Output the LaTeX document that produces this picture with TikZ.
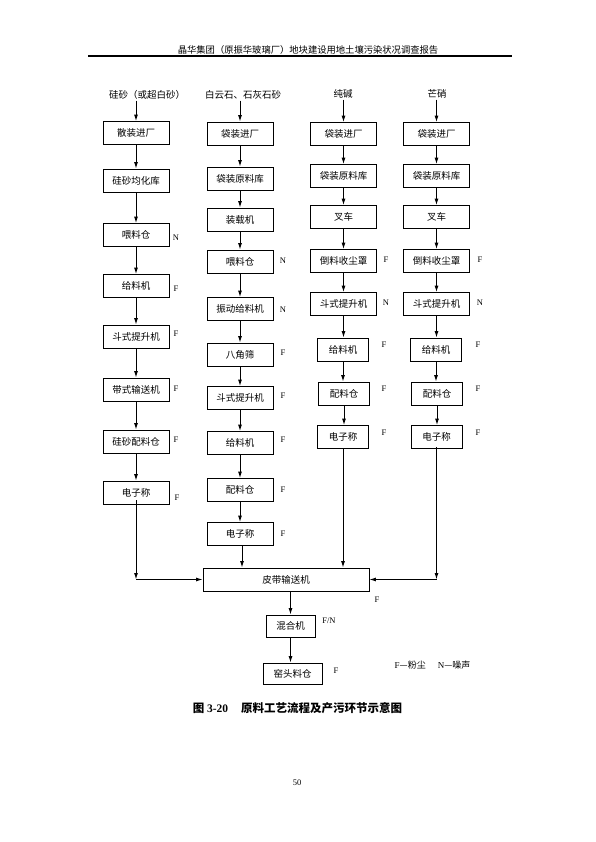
\documentclass[tikz,border=0pt]{standalone}
\usepackage{fontspec}
\setmainfont{Liberation Serif}
\newfontfamily\cjk{Noto Sans CJK SC}
\usetikzlibrary{arrows.meta}
\tikzset{
  box/.style={draw, line width=0.8pt, minimum height=23pt, inner sep=0pt, font=\cjk\fontsize{9.5}{9.5}\selectfont},
  wbox/.style={box, minimum width=66pt},
  nbox/.style={box, minimum width=51pt},
  lab/.style={inner sep=0pt, font=\fontsize{8.5}{8.5}\selectfont},
  ttl/.style={inner sep=1pt, font=\cjk\fontsize{9.5}{9.5}\selectfont},
  arr/.style={-{Latex[length=6.5pt,width=4pt]}, line width=1pt},
  ln/.style={line width=1pt}
}
\begin{document}
\begin{tikzpicture}[x=1pt,y=-1pt]
\useasboundingbox (0,0) rectangle (595,842);
% header
\node[inner sep=0pt, font=\cjk\fontsize{9.3}{9.3}\selectfont] (hdr) at (308,50) {晶华集团（原振华玻璃厂）地块建设用地土壤污染状况调查报告};
\coordinate (hl) at (88,56);
\coordinate (hr) at (512,56);
\draw[line width=1.6pt] (hl) -- (hr);

% titles
\node[ttl] (t1) at (147,95) {硅砂（或超白砂）};
\node[ttl] (t2) at (243,95) {白云石、石灰石砂};
\node[ttl] (t3) at (343,94) {纯碱};
\node[ttl] (t4) at (437,94) {芒硝};

% column 1
\node[wbox] (c1a) at (136,133) {散装进厂};
\node[wbox] (c1b) at (136,180.5) {硅砂均化库};
\node[wbox] (c1c) at (136,235) {喂料仓};
\node[wbox] (c1d) at (136,286) {给料机};
\node[wbox] (c1e) at (136,336.5) {斗式提升机};
\node[wbox] (c1f) at (136,389.5) {带式输送机};
\node[wbox] (c1g) at (136,441.5) {硅砂配料仓};
\node[wbox] (c1h) at (136,492.5) {电子称};
\node[lab] (l1c) at (176,238) {N};
\node[lab] (l1d) at (176,289) {F};
\node[lab] (l1e) at (176,334) {F};
\node[lab] (l1f) at (176,389) {F};
\node[lab] (l1g) at (176,440) {F};
\node[lab] (l1h) at (177,498) {F};

% column 2
\node[wbox] (c2a) at (240,133.5) {袋装进厂};
\node[wbox] (c2b) at (240,178.5) {袋装原料库};
\node[wbox] (c2c) at (240,219.5) {装载机};
\node[wbox] (c2d) at (240,261.5) {喂料仓};
\node[wbox] (c2e) at (240,309) {振动给料机};
\node[wbox] (c2f) at (240,354.5) {八角筛};
\node[wbox] (c2g) at (240,398) {斗式提升机};
\node[wbox] (c2h) at (240,443) {给料机};
\node[wbox] (c2i) at (240,490) {配料仓};
\node[wbox] (c2j) at (240,534) {电子称};
\node[lab] (l2d) at (283,261) {N};
\node[lab] (l2e) at (283,310) {N};
\node[lab] (l2f) at (283,353) {F};
\node[lab] (l2g) at (283,396) {F};
\node[lab] (l2h) at (283,440) {F};
\node[lab] (l2i) at (283,490) {F};
\node[lab] (l2j) at (283,534) {F};

% column 3
\node[wbox] (c3a) at (343.5,134) {袋装进厂};
\node[wbox] (c3b) at (343.5,176) {袋装原料库};
\node[wbox] (c3c) at (343.5,217) {叉车};
\node[wbox] (c3d) at (343.5,261) {倒料收尘罩};
\node[wbox] (c3e) at (343.5,304) {斗式提升机};
\node[nbox] (c3f) at (343,349.5) {给料机};
\node[nbox] (c3g) at (344,393.5) {配料仓};
\node[nbox] (c3h) at (343,437) {电子称};
\node[lab] (l3d) at (386,260) {F};
\node[lab] (l3e) at (386,303) {N};
\node[lab] (l3f) at (384,345) {F};
\node[lab] (l3g) at (384,389) {F};
\node[lab] (l3h) at (384,433) {F};

% column 4
\node[wbox] (c4a) at (436.5,134) {袋装进厂};
\node[wbox] (c4b) at (436.5,176) {袋装原料库};
\node[wbox] (c4c) at (436.5,217) {叉车};
\node[wbox] (c4d) at (436.5,261) {倒料收尘罩};
\node[wbox] (c4e) at (436.5,304) {斗式提升机};
\node[nbox] (c4f) at (436,349.5) {给料机};
\node[nbox] (c4g) at (437,393.5) {配料仓};
\node[nbox] (c4h) at (436.5,437) {电子称};
\node[lab] (l4d) at (480,260) {F};
\node[lab] (l4e) at (480,303) {N};
\node[lab] (l4f) at (478,345) {F};
\node[lab] (l4g) at (478,389) {F};
\node[lab] (l4h) at (478,433) {F};

% bottom
\node[box, minimum width=166pt] (bb) at (286,579.5) {皮带输送机};
\node[box, minimum width=49pt, minimum height=22pt] (mix) at (290.5,626) {混合机};
\node[box, minimum width=59pt, minimum height=21pt] (kiln) at (292.5,673.5) {窑头料仓};
\node[lab] (lbb) at (377,600) {F};
\node[lab] (lmix) at (329,621) {F/N};
\node[lab] (lkiln) at (336,671) {F};
\node[inner sep=0pt, font=\fontsize{9}{9}\selectfont] (leg) at (432.5,665) {F{\cjk —粉尘}\hspace{12pt}N{\cjk —噪声}};

% caption & page number
\node[inner sep=0pt, font=\fontsize{11.5}{11.5}\selectfont\bfseries] (cap) at (297.5,708) {{\cjk 图} 3-20\hspace{13pt}{\cjk 原料工艺流程及产污环节示意图}};
\node[inner sep=0pt, font=\fontsize{8.5}{8.5}\selectfont] (pg) at (297,783) {50};

% arrows from titles
\draw[arr] (t1.south -| c1a.north) -- (c1a.north);
\draw[arr] (t2.south -| c2a.north) -- (c2a.north);
\draw[arr] (t3.south -| c3a.north) -- (c3a.north);
\draw[arr] (t4.south -| c4a.north) -- (c4a.north);

% column arrows
\foreach \a/\b in {c1a/c1b,c1b/c1c,c1c/c1d,c1d/c1e,c1e/c1f,c1f/c1g,c1g/c1h,
                   c2a/c2b,c2b/c2c,c2c/c2d,c2d/c2e,c2e/c2f,c2f/c2g,c2g/c2h,c2h/c2i,c2i/c2j,
                   c3a/c3b,c3b/c3c,c3c/c3d,c3d/c3e,c3e/c3f,c3f/c3g,c3g/c3h,
                   c4a/c4b,c4b/c4c,c4c/c4d,c4d/c4e,c4e/c4f,c4f/c4g,c4g/c4h}
  \draw[arr] (\a.south) -- (\a.south |- \b.north);

% to belt conveyor
\coordinate (k1) at (136,579.5);
\coordinate (k4) at (436.5,579.5);
\draw[arr] ([yshift=4pt]c1h.south) -- (k1);
\draw[arr] (k1) -- (bb.west);
\draw[arr] ([xshift=2pt]c2j.south) -- ([xshift=2pt]c2j.south |- bb.north);
\draw[arr] (c3h.south) -- (c3h.south |- bb.north);
\draw[arr] ([yshift=2pt]c4h.south) -- (k4);
\draw[arr] (k4) -- (bb.east);
\draw[arr] (mix.north |- bb.south) -- (mix.north);
\draw[arr] (mix.south) -- (mix.south |- kiln.north);
\end{tikzpicture}
\end{document}
